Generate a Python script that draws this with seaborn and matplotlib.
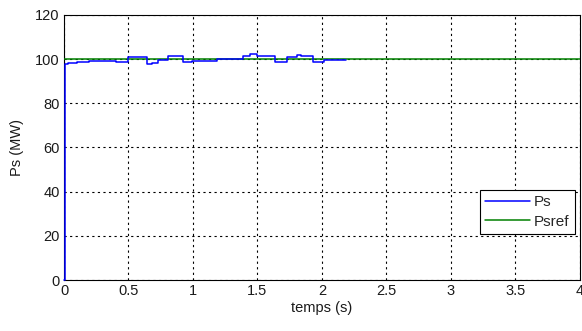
import matplotlib.pyplot as plt
import pandas as pd
import seaborn as sns
plt.switch_backend('agg')

# step response
t = [0, 0.004, 0.03, 0.1, 0.19, 0.4, 0.5, 0.64, 0.68, 0.73, 0.81, 0.92, 0.99,
     1.19, 1.39, 1.44, 1.5, 1.64, 1.73, 1.81, 1.84, 1.93, 2.02, 2.19]
ps = [0, 97.7, 98.2, 98.8, 99.1, 98.8, 101.0, 97.7, 98.2, 99.6, 101.2, 98.5, 99.3,
      100.0, 101.5, 102.3, 101.5, 98.8, 100.8, 102.0, 101.5, 98.8, 99.5, 99.5]
t_ref = [0, 4]
ps_ref = [100, 100]

df = pd.DataFrame({'t': t, 'Ps': ps})
dref = pd.DataFrame({'t': t_ref, 'Psref': ps_ref})

sns.set_style('white')
plt.rcParams['font.family'] = ['Liberation Sans', 'DejaVu Sans']
fig = plt.figure(figsize=(5.82, 3.31), dpi=100)
ax = fig.add_axes([0.110, 0.154, 0.886, 0.801])

sns.lineplot(data=df, x='t', y='Ps', ax=ax, color='blue', lw=1.1,
             drawstyle='steps-post', label='Ps', zorder=4, clip_on=False)
sns.lineplot(data=dref, x='t', y='Psref', ax=ax, color='green', lw=1.1,
             label='Psref', zorder=3)

ax.set_xlim(0, 4)
ax.set_ylim(0, 120)
ax.set_xticks([0, 0.5, 1, 1.5, 2, 2.5, 3, 3.5, 4])
ax.set_xticklabels(['0', '0.5', '1', '1.5', '2', '2.5', '3', '3.5', '4'])
ax.set_yticks(range(0, 121, 20))
ax.grid(True, color='black', linestyle=(0, (2, 3)), linewidth=0.8)
for s in ax.spines.values():
    s.set_color('black')
    s.set_linewidth(0.8)
ax.tick_params(labelsize=10.5, length=0, pad=3, colors='#1a1a1a')
ax.set_xlabel('temps (s)', fontsize=10.5, labelpad=2, color='#1a1a1a')
ax.set_ylabel('Ps (MW)', fontsize=10.5, labelpad=8, color='#1a1a1a')

leg = ax.legend(loc='lower right', bbox_to_anchor=(0.99, 0.174), fontsize=11,
                fancybox=False, framealpha=1, edgecolor='black',
                borderaxespad=0, handlelength=2.9, handletextpad=0.25,
                borderpad=0.35, labelspacing=0.35)
leg.get_frame().set_linewidth(0.8)

fig.savefig('out.png', dpi=100)
